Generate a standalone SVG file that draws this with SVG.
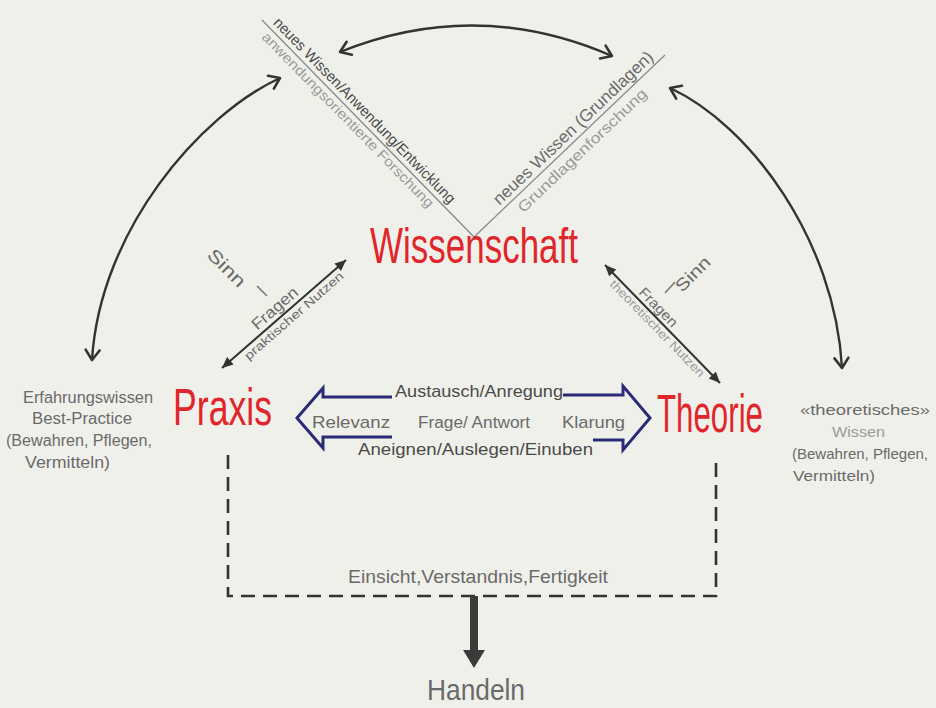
<svg xmlns="http://www.w3.org/2000/svg" width="936" height="708" viewBox="0 0 936 708">
<style>
text{font-family:"Liberation Sans","DejaVu Sans",sans-serif}
.red{fill:#e0262b}
.dk{fill:#4a4a4a}
.md{fill:#6a6a6a}
.lt{fill:#9a9a9a}
.arc{fill:none;stroke:#333;stroke-width:2.4}
.dash{fill:none;stroke:#333;stroke-width:2.6;stroke-dasharray:14 8}
.blue{fill:none;stroke:#2b2a78;stroke-width:3;stroke-linejoin:miter}
.vline{fill:none;stroke:#8a8a8a;stroke-width:1.3}
</style>
<defs>
<marker id="chev" viewBox="-12 -9 14 18" refX="0" refY="0" markerWidth="14" markerHeight="18" markerUnits="userSpaceOnUse" orient="auto-start-reverse" overflow="visible">
<path d="M-10,-7 L0,0 L-10,7" fill="none" stroke="#333" stroke-width="2.6" stroke-linecap="round" stroke-linejoin="round"/>
</marker>
<marker id="tri" viewBox="-12 -6 12 12" refX="0" refY="0" markerWidth="12" markerHeight="12" markerUnits="userSpaceOnUse" orient="auto-start-reverse" overflow="visible">
<path d="M-11,-5 L0,0 L-11,5 Z" fill="#333"/>
</marker>
</defs>
<rect x="0" y="0" width="936" height="708" fill="#f0f0eb"/>

<g id="connectors">
<path class="arc" d="M340,52 Q476,-3 612,56" marker-start="url(#chev)" marker-end="url(#chev)"/>
<path class="arc" d="M280,78 C200,115 100,230 92,360" marker-start="url(#chev)" marker-end="url(#chev)"/>
<path class="arc" d="M670,88 C750,125 835,240 842,368" marker-start="url(#chev)" marker-end="url(#chev)"/>
<line x1="222" y1="368" x2="346" y2="260" stroke="#333" stroke-width="2" marker-start="url(#tri)" marker-end="url(#tri)"/>
<line x1="605" y1="265" x2="720" y2="383" stroke="#333" stroke-width="2" marker-start="url(#tri)" marker-end="url(#tri)"/>
<path class="blue" d="M392,397 L323,397 L323,388 L297,418 L323,448 L323,437 L392,437"/>
<path class="blue" d="M563,395 L623,395 L623,386 L650,418 L623,450 L623,440 L593,440"/>
<path class="dash" d="M228,455 L228,596 L716,596 L716,455"/>
<line x1="474" y1="596" x2="474" y2="652" stroke="#3a3a3a" stroke-width="8"/>
<path d="M463,650 L485,650 L474,668 Z" fill="#3a3a3a"/>
<line x1="257" y1="286" x2="267" y2="296" stroke="#777" stroke-width="1.6"/>
<line x1="665" y1="293" x2="675" y2="282" stroke="#777" stroke-width="1.6"/>
</g>

<g id="wissenschaft-v">
<path class="vline" d="M262,20 L474,237 L665,55"/>
<text class="dk" font-size="15" transform="translate(269,27) rotate(45.67)" x="0" y="-5" textLength="253" lengthAdjust="spacingAndGlyphs">neues Wissen/Anwendung/Entwicklung</text>
<text class="lt" font-size="14" transform="translate(262,20) rotate(45.67)" x="12" y="13" textLength="239" lengthAdjust="spacingAndGlyphs">anwendungsorientierte Forschung</text>
<text class="md" font-size="17" transform="translate(474,237) rotate(-43.6)" x="40" y="-5" textLength="214" lengthAdjust="spacingAndGlyphs">neues Wissen (Grundlagen)</text>
<text class="lt" font-size="15" transform="translate(474,237) rotate(-43.6)" x="52" y="17" textLength="172" lengthAdjust="spacingAndGlyphs">Grundlagenforschung</text>
</g>

<g id="wissenschaft">
<text class="red" font-size="50" x="370" y="263" textLength="208" lengthAdjust="spacingAndGlyphs">Wissenschaft</text>
</g>

<g id="praxis">
<text class="red" font-size="52" x="173" y="425" textLength="99" lengthAdjust="spacingAndGlyphs">Praxis</text>
</g>

<g id="theorie">
<text class="red" font-size="54" x="657" y="432" textLength="106" lengthAdjust="spacingAndGlyphs">Theorie</text>
</g>

<g id="praxis-wissenschaft-labels">
<text class="md" font-size="18" transform="translate(206,256) rotate(45)" textLength="46" lengthAdjust="spacingAndGlyphs">Sinn</text>
<text class="md" font-size="16" transform="translate(222,368) rotate(-41.05)" x="51" y="-5" textLength="56" lengthAdjust="spacingAndGlyphs">Fragen</text>
<text class="md" font-size="12" transform="translate(222,368) rotate(-41.05)" x="25" y="12" textLength="127" lengthAdjust="spacingAndGlyphs">praktischer Nutzen</text>
</g>

<g id="theorie-wissenschaft-labels">
<text class="md" font-size="17" transform="translate(682,293) rotate(-45)" textLength="42" lengthAdjust="spacingAndGlyphs">Sinn</text>
<text class="md" font-size="14" transform="translate(605,265) rotate(45.73)" x="43" y="-4" textLength="49" lengthAdjust="spacingAndGlyphs">Fragen</text>
<text class="lt" font-size="12" transform="translate(605,265) rotate(45.73)" x="17" y="11" textLength="130" lengthAdjust="spacingAndGlyphs">theoretischer Nutzen</text>
</g>

<g id="austausch">
<text class="dk" font-size="17" x="395" y="397" textLength="168" lengthAdjust="spacingAndGlyphs">Austausch/Anregung</text>
<text class="md" font-size="17" x="312" y="428" textLength="78" lengthAdjust="spacingAndGlyphs">Relevanz</text>
<text class="md" font-size="16" x="418" y="428" textLength="112" lengthAdjust="spacingAndGlyphs">Frage/ Antwort</text>
<text class="md" font-size="17" x="562" y="428" textLength="63" lengthAdjust="spacingAndGlyphs">Klarung</text>
<text class="dk" font-size="17" x="358" y="455" textLength="235" lengthAdjust="spacingAndGlyphs">Aneignen/Auslegen/Einuben</text>
</g>

<g id="erfahrungswissen">
<text class="md" font-size="16" x="23" y="403" textLength="130" lengthAdjust="spacingAndGlyphs">Erfahrungswissen</text>
<text class="md" font-size="16" x="32" y="424" textLength="100" lengthAdjust="spacingAndGlyphs">Best-Practice</text>
<text class="md" font-size="16" x="6" y="446" textLength="146" lengthAdjust="spacingAndGlyphs">(Bewahren, Pflegen,</text>
<text class="md" font-size="16" x="25" y="468" textLength="85" lengthAdjust="spacingAndGlyphs">Vermitteln)</text>
</g>

<g id="theoretisches-wissen">
<text class="md" font-size="14" x="800" y="415" textLength="130" lengthAdjust="spacingAndGlyphs">«theoretisches»</text>
<text class="lt" font-size="14" x="832" y="437" textLength="53" lengthAdjust="spacingAndGlyphs">Wissen</text>
<text class="md" font-size="15" x="792" y="459" textLength="136" lengthAdjust="spacingAndGlyphs">(Bewahren, Pflegen,</text>
<text class="md" font-size="15" x="793" y="481" textLength="82" lengthAdjust="spacingAndGlyphs">Vermitteln)</text>
</g>

<g id="einsicht">
<text class="md" font-size="19" x="348" y="583" textLength="260" lengthAdjust="spacingAndGlyphs">Einsicht,Verstandnis,Fertigkeit</text>
</g>

<g id="handeln">
<text class="md" font-size="30" x="427" y="700" textLength="98" lengthAdjust="spacingAndGlyphs">Handeln</text>
</g>
</svg>
